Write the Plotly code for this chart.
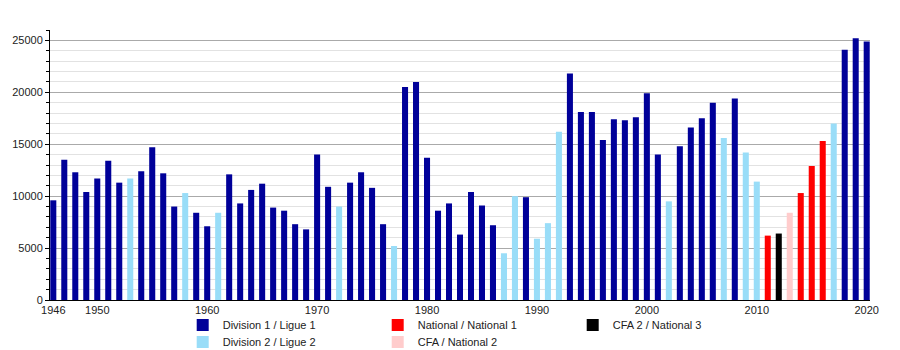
import plotly.graph_objects as go

years = list(range(1946, 2021))
attendance = [
    9600, 13500, 12300, 10400, 11700, 13400, 11300, 11700, 12400, 14700,
    12200, 9000, 10300, 8400, 7100, 8400, 12100, 9300, 10600, 11200,
    8900, 8600, 7300, 6800, 14000, 10900, 9000, 11300, 12300, 10800,
    7300, 5200, 20500, 21000, 13700, 8600, 9300, 6300, 10400, 9100,
    7200, 4500, 10000, 9900, 5900, 7400, 16200, 21800, 18100, 18100,
    15400, 17400, 17300, 17600, 19900, 14000, 9500, 14800, 16600, 17500,
    19000, 15600, 19400, 14200, 11400, 6200, 6400, 8400, 10300, 12900,
    15300, 17000, 24100, 25200, 24900,
]
division = [
    "D1", "D1", "D1", "D1", "D1", "D1", "D1", "D2", "D1", "D1",
    "D1", "D1", "D2", "D1", "D1", "D2", "D1", "D1", "D1", "D1",
    "D1", "D1", "D1", "D1", "D1", "D1", "D2", "D1", "D1", "D1",
    "D1", "D2", "D1", "D1", "D1", "D1", "D1", "D1", "D1", "D1",
    "D1", "D2", "D2", "D1", "D2", "D2", "D2", "D1", "D1", "D1",
    "D1", "D1", "D1", "D1", "D1", "D1", "D2", "D1", "D1", "D1",
    "D1", "D2", "D1", "D2", "D2", "N1", "N3", "N2", "N1", "N1",
    "N1", "D2", "D1", "D1", "D1",
]
# legend rows
legend_rows = {"legend": ["D1", "N1", "N3"], "legend2": ["D2", "N2"]}
category_names = {
    "D1": "Division 1 / Ligue 1",
    "D2": "Division 2 / Ligue 2",
    "N1": "National / National 1",
    "N2": "CFA / National 2",
    "N3": "CFA 2 / National 3",
}
category_colors = {
    "D1": "#000099",
    "D2": "#99DDF8",
    "N1": "#FF0000",
    "N2": "#FFCCCC",
    "N3": "#000000",
}
tick_years = [1946, 1950, 1960, 1970, 1980, 1990, 2000, 2010, 2020]

fig = go.Figure()
for leg, cats in legend_rows.items():
    for cat in cats:
        xs = [y for y, d in zip(years, division) if d == cat]
        ys = [v for v, d in zip(attendance, division) if d == cat]
        fig.add_trace(go.Bar(
            x=xs, y=ys, name=category_names[cat],
            marker=dict(color=category_colors[cat], line=dict(width=0)),
            width=0.55, legend=leg,
        ))

legend_common = dict(
    orientation="h", xref="container", yref="container",
    x=0.203, xanchor="left", yanchor="middle",
    entrywidth=150, entrywidthmode="pixels",
    font=dict(size=11), traceorder="normal", itemclick=False,
    bgcolor="rgba(0,0,0,0)",
)

fig.update_layout(
    width=900, height=350,
    margin=dict(l=50, r=30, t=30, b=50, autoexpand=False),
    barmode="overlay",
    plot_bgcolor="white", paper_bgcolor="white",
    font=dict(family="Liberation Sans, Arial, sans-serif", size=11, color="#222"),
    showlegend=True,
    legend=dict(legend_common, y=1 - 325 / 350),
    legend2=dict(legend_common, y=1 - 342 / 350),
)
fig.update_xaxes(
    range=[1945.7, 2020.3],
    tickmode="array", tickvals=tick_years, ticktext=[str(t) for t in tick_years],
    showgrid=False, showline=True, linecolor="black", linewidth=1,
    ticks="", zeroline=False,
)
fig.update_yaxes(
    range=[0, 26000],
    tickmode="linear", tick0=0, dtick=5000, tickformat="d",
    showgrid=True, gridcolor="#aaaaaa", gridwidth=1,
    showline=True, linecolor="black", linewidth=1,
    ticks="outside", ticklen=4, tickcolor="black",
    minor=dict(dtick=1000, showgrid=True, gridcolor="#e2e2e2", ticks="outside",
               ticklen=3, tickcolor="black"),
    zeroline=False,
)

fig.write_html("out.html")
